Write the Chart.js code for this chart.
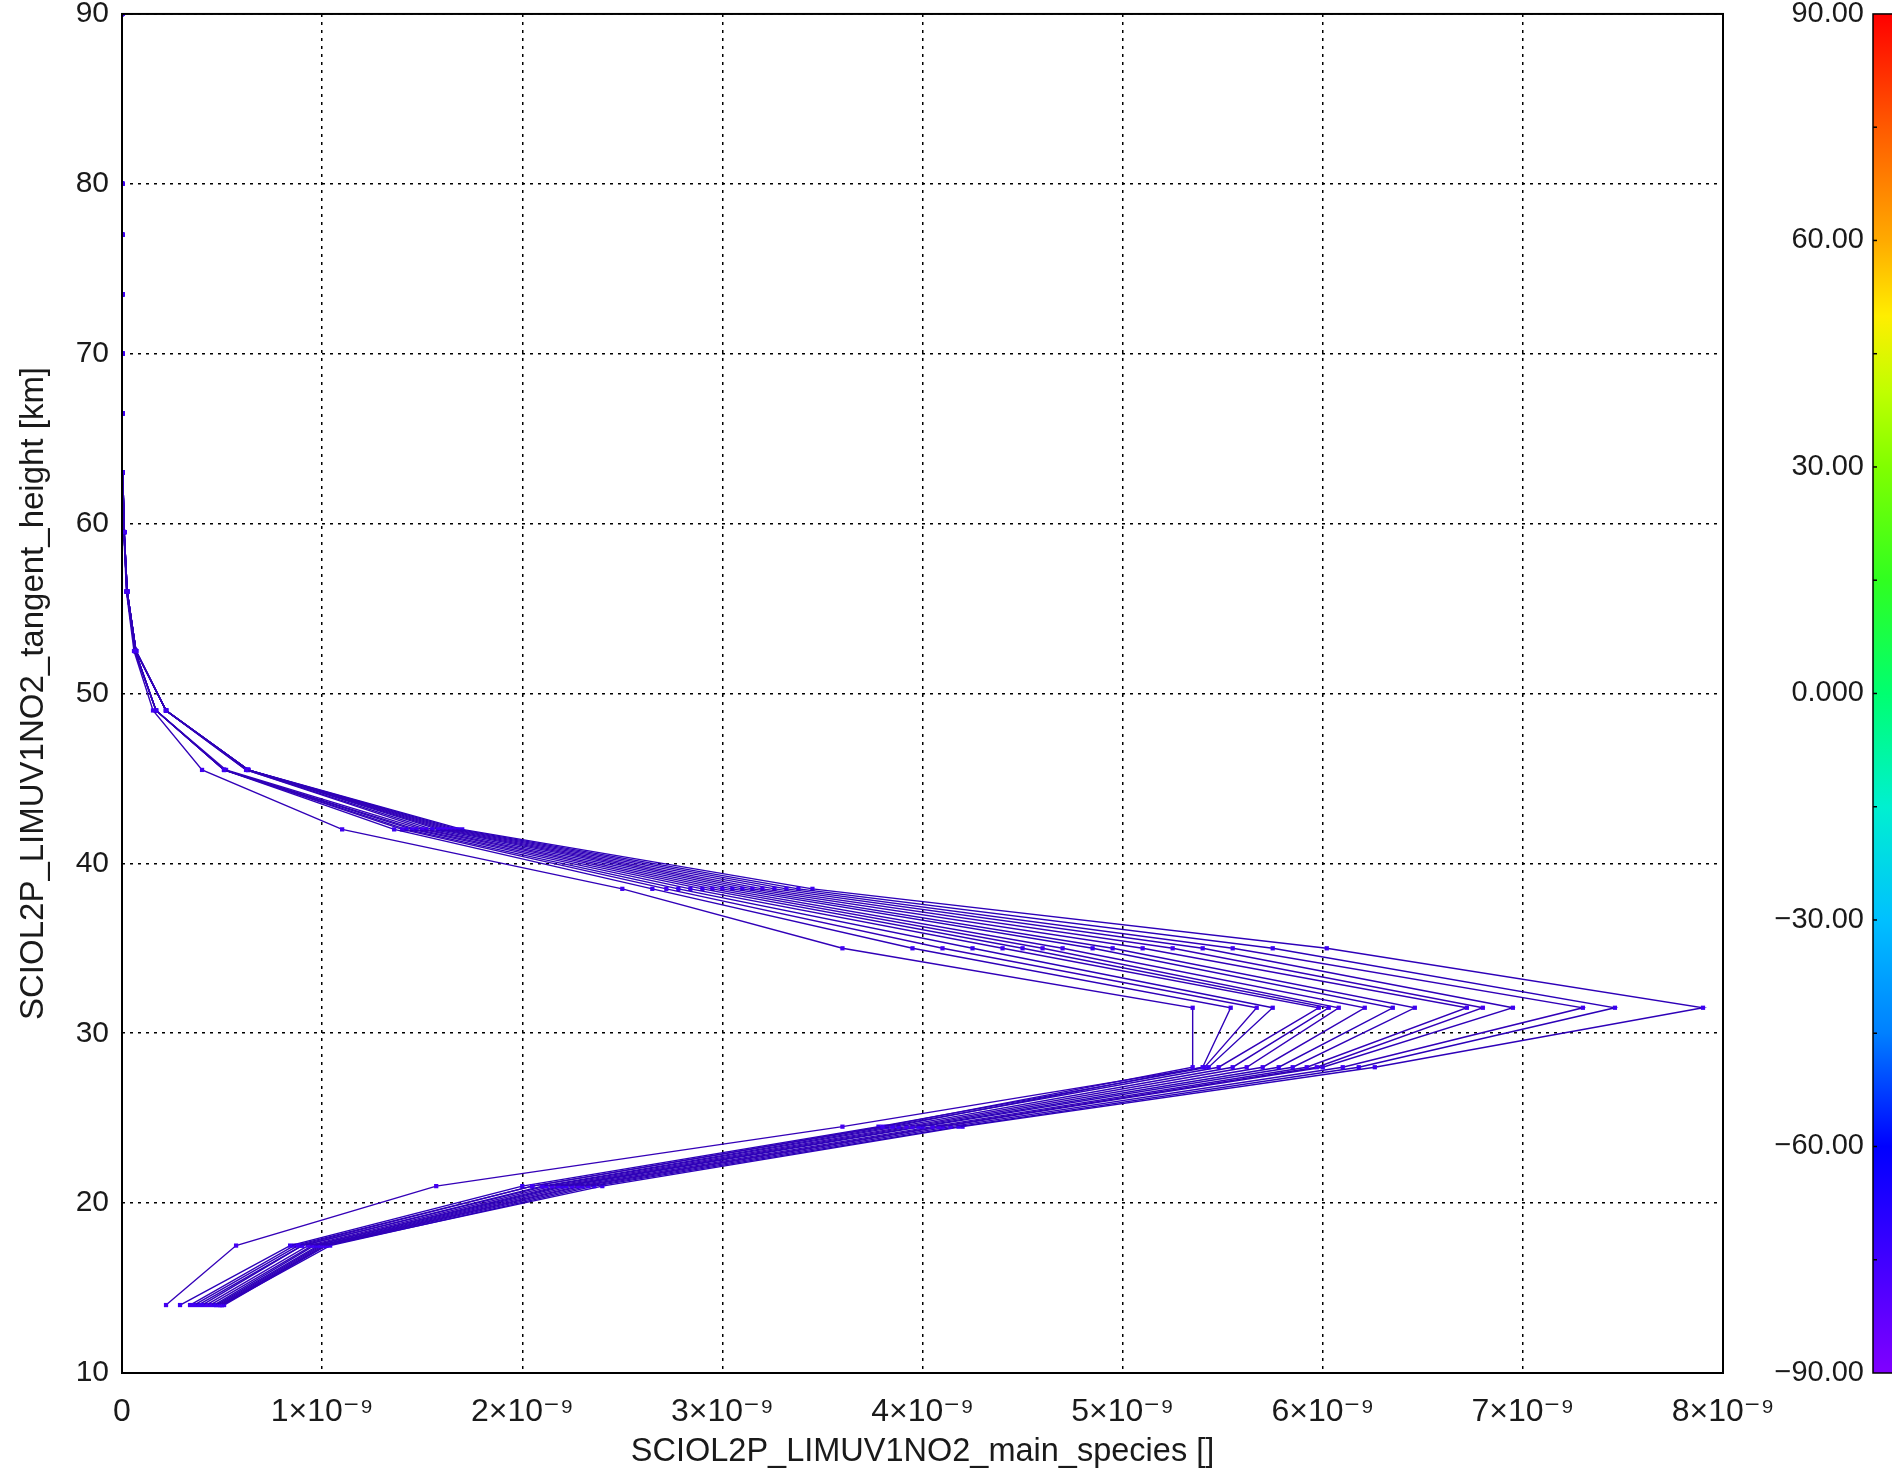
<!DOCTYPE html>
<html>
<head>
<meta charset="utf-8">
<script src="https://cdn.jsdelivr.net/npm/chart.js@4.4.1/dist/chart.umd.min.js"></script>
<style>
html,body{margin:0;padding:0;background:#fff;}
#wrap{width:1892px;height:1474px;position:relative;}
</style>
</head>
<body>
<div id="wrap"><canvas id="c"></canvas></div>
<script>
// Tangent heights [km] shared by every profile
const HEIGHTS_KM = [14, 17.5, 21, 24.5, 28, 31.5, 35, 38.5, 42, 45.5, 49, 52.5, 56, 59.5, 63, 66.5, 70, 73.5, 77, 80, 90];

// NO2 main species, in units of 1e-9, one array per profile (same order as HEIGHTS_KM)
const p01 = [0.36, 0.88, 2.05, 3.80, 5.35, 5.35, 3.60, 2.50, 1.10, 0.40, 0.155, 0.060, 0.022, 0.009, 0.004, 0.002, 0.001, 0.0008, 0.0005, 0.0003, 0.0001];
const p02 = [0.40, 0.90, 2.10, 3.85, 5.40, 5.54, 3.95, 2.65, 1.36, 0.51, 0.170, 0.065, 0.024, 0.010, 0.004, 0.002, 0.001, 0.0008, 0.0005, 0.0003, 0.0001];
const p03 = [0.22, 0.57, 1.57, 3.60, 5.41, 5.67, 4.10, 2.72, 1.40, 0.51, 0.170, 0.065, 0.024, 0.010, 0.004, 0.002, 0.001, 0.0008, 0.0005, 0.0003, 0.0001];
const p04 = [0.29, 0.84, 2.00, 3.78, 5.43, 5.75, 4.25, 2.78, 1.42, 0.51, 0.170, 0.065, 0.024, 0.010, 0.004, 0.002, 0.001, 0.0008, 0.0005, 0.0003, 0.0001];
const p05 = [0.34, 0.86, 2.05, 3.82, 5.48, 5.98, 4.40, 2.84, 1.45, 0.51, 0.170, 0.065, 0.024, 0.010, 0.004, 0.002, 0.001, 0.0008, 0.0005, 0.0003, 0.0001];
const p06 = [0.38, 0.90, 2.12, 3.88, 5.55, 6.03, 4.50, 2.90, 1.47, 0.51, 0.170, 0.065, 0.024, 0.010, 0.004, 0.002, 0.001, 0.0008, 0.0005, 0.0003, 0.0001];
const p07 = [0.42, 0.93, 2.15, 3.92, 5.62, 6.08, 4.60, 2.95, 1.50, 0.52, 0.170, 0.065, 0.024, 0.010, 0.004, 0.002, 0.001, 0.0008, 0.0005, 0.0003, 0.0001];
const p08 = [0.44, 0.95, 2.18, 3.95, 5.70, 6.21, 4.70, 3.00, 1.52, 0.62, 0.220, 0.070, 0.026, 0.011, 0.004, 0.002, 0.001, 0.0008, 0.0005, 0.0003, 0.0001];
const p09 = [0.46, 0.96, 2.20, 3.98, 5.78, 6.35, 4.85, 3.05, 1.55, 0.62, 0.220, 0.070, 0.026, 0.011, 0.004, 0.002, 0.001, 0.0008, 0.0005, 0.0003, 0.0001];
const p10 = [0.47, 0.98, 2.22, 4.00, 5.85, 6.46, 4.95, 3.10, 1.58, 0.63, 0.220, 0.070, 0.026, 0.011, 0.004, 0.002, 0.001, 0.0008, 0.0005, 0.0003, 0.0001];
const p11 = [0.48, 0.99, 2.25, 4.05, 5.92, 6.72, 5.10, 3.15, 1.60, 0.63, 0.220, 0.070, 0.026, 0.011, 0.004, 0.002, 0.001, 0.0008, 0.0005, 0.0003, 0.0001];
const p12 = [0.49, 1.00, 2.28, 4.08, 5.97, 6.80, 5.25, 3.20, 1.62, 0.63, 0.220, 0.070, 0.026, 0.011, 0.004, 0.002, 0.001, 0.0008, 0.0005, 0.0003, 0.0001];
const p13 = [0.50, 1.01, 2.30, 4.10, 6.00, 6.95, 5.40, 3.26, 1.64, 0.63, 0.220, 0.070, 0.026, 0.011, 0.004, 0.002, 0.001, 0.0008, 0.0005, 0.0003, 0.0001];
const p14 = [0.51, 1.02, 2.33, 4.14, 6.10, 7.30, 5.55, 3.32, 1.66, 0.63, 0.220, 0.070, 0.026, 0.011, 0.004, 0.002, 0.001, 0.0008, 0.0005, 0.0003, 0.0001];
const p15 = [0.50, 1.04, 2.36, 4.18, 6.18, 7.46, 5.75, 3.38, 1.68, 0.63, 0.220, 0.070, 0.026, 0.011, 0.004, 0.002, 0.001, 0.0008, 0.0005, 0.0003, 0.0001];
const p16 = [0.49, 1.02, 2.40, 4.20, 6.26, 7.90, 6.02, 3.45, 1.70, 0.63, 0.220, 0.070, 0.026, 0.011, 0.004, 0.002, 0.001, 0.0008, 0.0005, 0.0003, 0.0001];
const PROFILES = [p01, p02, p03, p04, p05, p06, p07, p08, p09, p10, p11, p12, p13, p14, p15, p16];

// Latitude of each profile (colour coded by the colour bar)
const LATITUDES = [-76, -75, -77, -74, -76, -75, -77, -76, -74, -75, -76, -77, -75, -76, -74, -75];

// Axis ticks
const X_MIN = 0, X_MAX = 8, X_STEP = 1;          // in 1e-9
const Y_MIN = 10, Y_MAX = 90, Y_STEP = 10;       // km
const CB_MIN = -90, CB_MAX = 90, CB_STEP = 30;   // latitude
const CB_MINOR_STEP = 15;

// Colour table of the colour bar (value -> colour)
const CB_VALUES = [-90, -75, -60, -45, -30, -15, 0, 15, 30, 40, 50, 60, 75, 90];
const CB_COLORS = ['#8000ff', '#4000ff', '#0000ff', '#0080ff', '#00c0ff', '#00f0d0', '#00ff70', '#30ff20', '#80ff00', '#c0ff00', '#ffee00', '#ffaa00', '#ff5a00', '#ff0000'];

const X_TITLE = 'SCIOL2P_LIMUV1NO2_main_species []';
const Y_TITLE = 'SCIOL2P_LIMUV1NO2_tangent_height [km]';

function hexToRgb(h){ return [parseInt(h.slice(1,3),16), parseInt(h.slice(3,5),16), parseInt(h.slice(5,7),16)]; }
function colorFor(v, k){
  let i = 0;
  while (i < CB_VALUES.length - 2 && v > CB_VALUES[i+1]) i++;
  const t = Math.max(0, Math.min(1, (v - CB_VALUES[i]) / (CB_VALUES[i+1] - CB_VALUES[i])));
  const a = hexToRgb(CB_COLORS[i]), b = hexToRgb(CB_COLORS[i+1]);
  const c = a.map((x, j) => Math.round((x + (b[j] - x) * t) * k));
  return 'rgb(' + c.join(',') + ')';
}

const FONT = "'Liberation Sans', 'DejaVu Sans', Arial, sans-serif";

const datasets = PROFILES.map((vals, idx) => ({
  label: 'profile ' + (idx + 1),
  data: vals.map((v, i) => ({x: v, y: HEIGHTS_KM[i]})),
  showLine: true,
  borderColor: colorFor(LATITUDES[idx], 0.72),
  borderWidth: 1.4,
  pointStyle: 'rect',
  pointRadius: 3,
  pointBackgroundColor: colorFor(LATITUDES[idx], 0.95),
  pointBorderColor: colorFor(LATITUDES[idx], 0.95),
  pointBorderWidth: 0,
  tension: 0,
  xAxisID: 'x',
  yAxisID: 'y'
}));

const PLOT_LEFT = 122, PLOT_RIGHT_GAP = 141, BAR_GAP = 28, X_AXIS_H = 101;

const decor = {
  id: 'decor',
  beforeDraw(chart){
    const c = chart.ctx;
    c.save(); c.fillStyle = '#fff'; c.fillRect(0, 0, chart.width, chart.height); c.restore();
  },
  afterDatasetsDraw(chart){
    const c = chart.ctx, a = chart.chartArea;
    c.save();
    c.strokeStyle = '#000'; c.lineWidth = 2;
    c.strokeRect(a.left, a.top, a.right - a.left, a.bottom - a.top);
    c.restore();
  },
  afterDraw(chart){
    const c = chart.ctx, cb = chart.scales.cb;
    const yTop = cb.getPixelForValue(CB_MAX), yBot = cb.getPixelForValue(CB_MIN);
    const x0 = chart.width - 19, x1 = chart.width + 2;
    const g = c.createLinearGradient(0, yBot, 0, yTop);
    CB_VALUES.forEach((v, i) => g.addColorStop((v - CB_MIN) / (CB_MAX - CB_MIN), CB_COLORS[i]));
    c.save();
    c.fillStyle = g;
    c.fillRect(x0, yTop, x1 - x0, yBot - yTop);
    c.strokeStyle = '#000'; c.lineWidth = 1.5;
    c.strokeRect(x0, yTop, x1 - x0, yBot - yTop);
    for (let v = CB_MIN + CB_MINOR_STEP; v < CB_MAX; v += CB_MINOR_STEP) {
      const y = cb.getPixelForValue(v);
      c.beginPath(); c.moveTo(x0, y); c.lineTo(x0 + 4, y); c.stroke();
    }
    c.restore();
  }
};

new Chart(document.getElementById('c'), {
  type: 'scatter',
  data: { datasets },
  plugins: [decor],
  options: {
    responsive: true,
    maintainAspectRatio: false,
    animation: false,
    events: [],
    layout: { padding: { top: 0, left: 0, right: BAR_GAP, bottom: 0 } },
    plugins: { legend: { display: false }, tooltip: { enabled: false }, title: { display: false } },
    scales: {
      x: {
        type: 'linear', position: 'bottom', min: X_MIN, max: X_MAX,
        afterFit(s){ s.height = X_AXIS_H; },
        ticks: {
          stepSize: X_STEP, padding: 20, color: '#1a1a1a', maxRotation: 0,
          font: { family: FONT, size: 32 },
          callback: v => v === 0 ? '0' : v + '×10⁻⁹'
        },
        grid: { color: '#000', lineWidth: 1.5, drawTicks: false },
        border: { display: false, dash: [3, 5] },
        title: { display: true, text: X_TITLE, color: '#1a1a1a', font: { family: FONT, size: 32.5 }, padding: { top: 0, bottom: 2 } }
      },
      y: {
        type: 'linear', position: 'left', min: Y_MIN, max: Y_MAX,
        afterFit(s){ s.width = PLOT_LEFT; },
        ticks: {
          stepSize: Y_STEP, padding: 0, color: '#1a1a1a',
          font: { family: FONT, size: 30, lineHeight: 0.93 }
        },
        grid: { color: '#000', lineWidth: 1.5, drawTicks: true, tickLength: 13, tickColor: 'rgba(0,0,0,0)' },
        border: { display: false, dash: [3, 5] },
        title: { display: true, text: Y_TITLE, color: '#1a1a1a', font: { family: FONT, size: 33 }, padding: { top: 14, bottom: 0 } }
      },
      cb: {
        type: 'linear', position: 'right', min: CB_MIN, max: CB_MAX,
        afterFit(s){ s.width = PLOT_RIGHT_GAP; },
        ticks: {
          stepSize: CB_STEP, padding: 0, crossAlign: 'far', color: '#1a1a1a',
          font: { family: FONT, size: 29, lineHeight: 0.9 },
          callback: v => v === 0 ? '0.000' : (v < 0 ? '−' : '') + Math.abs(v).toFixed(2)
        },
        grid: { display: false, drawTicks: false },
        border: { display: false }
      }
    }
  }
});
</script>
</body>
</html>
